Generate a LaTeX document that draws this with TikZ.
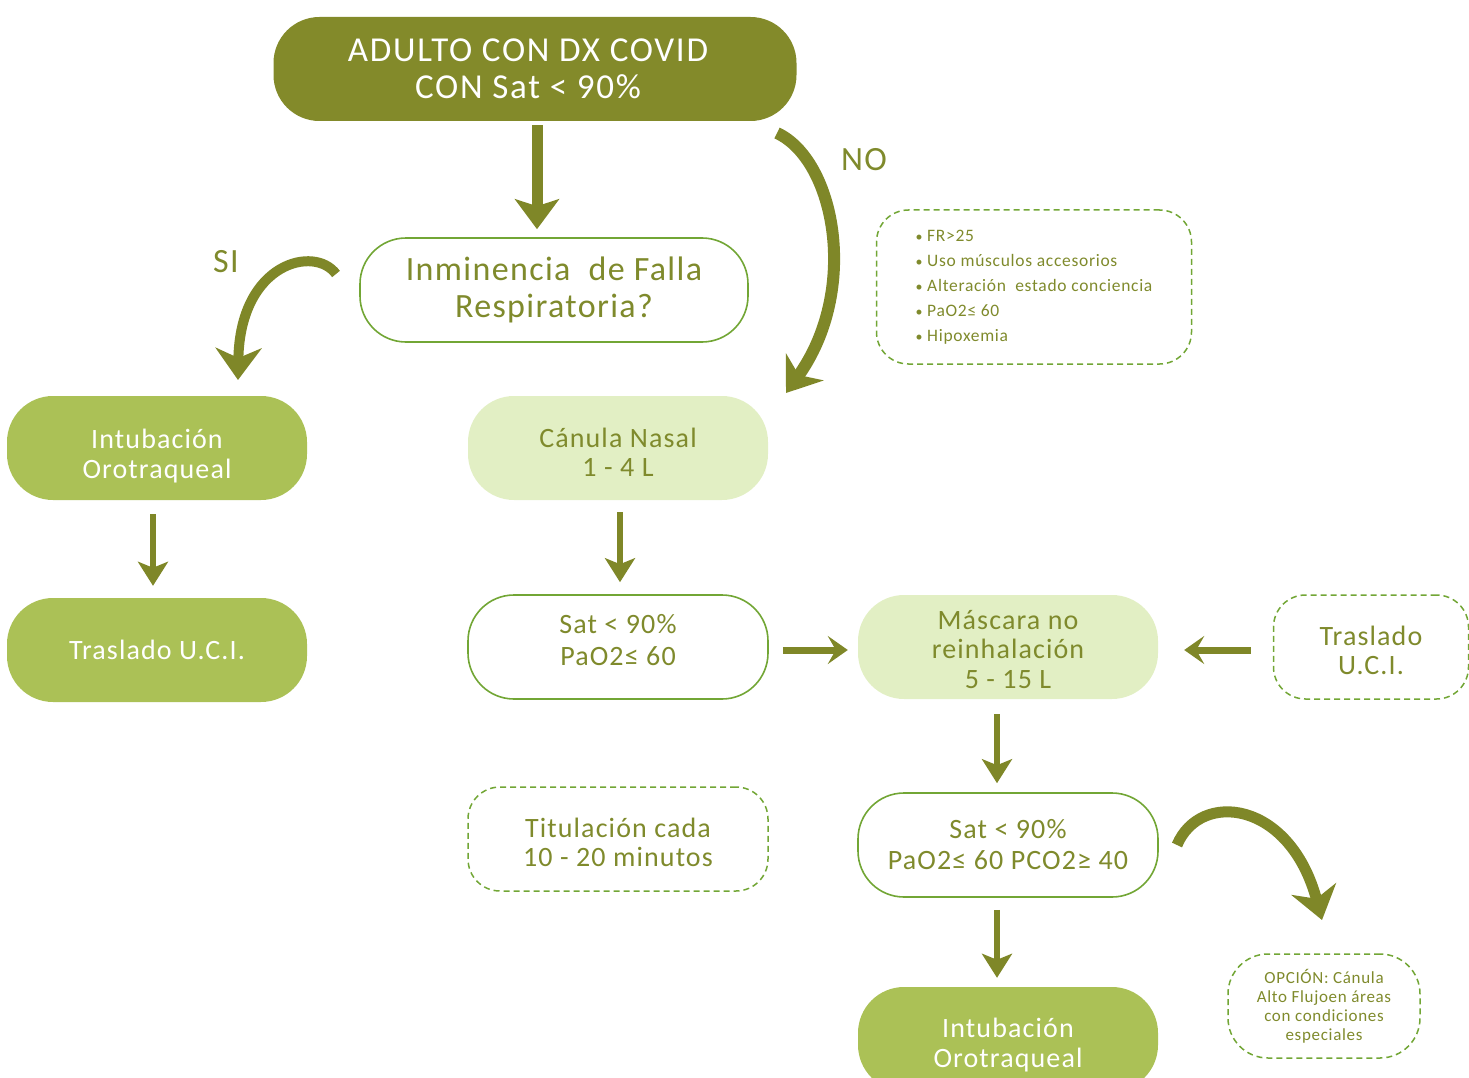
\documentclass[tikz,border=0pt]{standalone}
\usepackage{fontspec}
\setmainfont{Carlito}[LetterSpace=4]
\usetikzlibrary{arrows.meta}
\definecolor{darkolive}{HTML}{838A2A}
\definecolor{midgreen}{HTML}{ABC156}
\definecolor{lightgreen}{HTML}{E2EFC4}
\definecolor{textolive}{HTML}{7F8A2C}
\definecolor{bordergreen}{HTML}{72A635}
\definecolor{arrowolive}{HTML}{7F8728}
\tikzset{
  basebox/.style={rounded corners=46pt, minimum width=300pt, minimum height=104pt, align=center, inner sep=0pt},
  darkbox/.style={basebox, fill=darkolive, text=white},
  midbox/.style={basebox, fill=midgreen, text=white},
  lightbox/.style={basebox, fill=lightgreen, text=textolive},
  outbox/.style={basebox, fill=white, draw=bordergreen, line width=1.6pt, text=textolive},
  dashbox/.style={basebox, rounded corners=32pt, draw=bordergreen, line width=1.5pt, dash pattern=on 6pt off 4pt, text=textolive},
  txtA/.style={font=\fontsize{28}{29.5}\selectfont},
  bigarr/.style={draw=arrowolive, line width=11pt, -{Stealth[length=30pt,width=44pt,inset=7pt]}},
  smallarr/.style={draw=arrowolive, line width=6.5pt, -{Stealth[length=24pt,width=30pt,inset=6pt]}},
  harr/.style={draw=arrowolive, line width=7pt, -{Stealth[length=20pt,width=28pt,inset=8pt]}},
  curvarr/.style={draw=arrowolive, line width=12pt, -{Stealth[length=32pt,width=46pt,inset=10pt]}},
  lbl/.style={text=textolive, font=\fontsize{34}{36}\selectfont}
}
\newcommand{\bul}{{\fontsize{14}{14}\selectfont•}\ }
\begin{document}
\begin{tikzpicture}[x=1pt,y=-1pt]
\useasboundingbox (0,0) rectangle (1469,1078);
\clip (0,0) rectangle (1469,1078);

% nodes
\node[darkbox, minimum width=523pt, font=\fontsize{35}{37}\selectfont\addfontfeatures{LetterSpace=5}] (top) at (535,69) {\hspace*{-14pt}ADULTO CON DX COVID\\\hspace*{-14pt}CON Sat < 90\%};
\node[outbox, minimum width=388pt, font=\fontsize{34}{37}\selectfont] (inm) at (554,290) {Inminencia\ \ de Falla\\Respiratoria?};
\node[midbox, txtA] (intL) at (157,448) {\rule{0pt}{36pt}Intubación\\Orotraqueal};
\node[midbox, txtA] (trasL) at (157,650) {Traslado U.C.I.};
\node[lightbox, txtA] (can) at (618,448) {\rule{0pt}{28pt}Cánula Nasal\\1 - 4 L};
\node[outbox, font=\fontsize{28}{32}\selectfont] (sat) at (618,647) {Sat < 90\%\\PaO2≤ 60\rule[-14pt]{0pt}{1pt}};
\node[lightbox, txtA] (mas) at (1008,647) {\rule{0pt}{24pt}Máscara no\\reinhalación\\5 - 15 L};
\node[dashbox, minimum width=195pt, txtA] (trasR) at (1371,647) {\rule{0pt}{26pt}Traslado\\U.C.I.};
\node[dashbox, txtA] (tit) at (618,839) {\rule{0pt}{26pt}Titulación cada\\10 - 20 minutos};
\node[outbox, font=\fontsize{28}{31}\selectfont] (sat2) at (1008,845) {Sat < 90\%\\PaO2≤ 60 PCO2≥ 40};
\node[midbox, txtA] (intB) at (1008,1039) {\rule{0pt}{31pt}Intubación\\Orotraqueal};
\node[dashbox, minimum width=315pt, minimum height=154pt, align=left, font=\fontsize{17.5}{25}\selectfont] (crit) at (1034,287)
  {\bul FR>25\\\bul Uso músculos accesorios\\\bul Alteración\ \ estado conciencia\\\bul PaO2≤ 60\\\bul Hipoxemia};
\node[dashbox, minimum width=192pt, rounded corners=40pt, font=\fontsize{17}{19}\selectfont] (opc) at (1324,1006)
  {OPCIÓN: Cánula\\Alto Flujoen áreas\\con condiciones\\especiales};

% labels
\node[lbl] (no) at (864,160) {NO};
\node[lbl] (si) at (226,262) {SI};

% straight arrows
\draw[bigarr, shorten <=4pt, shorten >=8pt] ([xshift=2pt]top.south) -- ([xshift=2pt]top.south |- inm.north);
\draw[smallarr, shorten <=14pt, shorten >=12pt] ([xshift=-4pt]intL.south) -- ([xshift=-4pt]trasL.north);
\draw[smallarr, shorten <=12pt, shorten >=12pt] ([xshift=2pt]can.south) -- ([xshift=2pt]sat.north);
\draw[smallarr, shorten <=15pt, shorten >=9pt] ([xshift=-11pt]mas.south) -- ([xshift=-11pt]sat2.north);
\draw[smallarr, shorten <=12pt, shorten >=9pt] ([xshift=-11pt]sat2.south) -- ([xshift=-11pt]intB.north);
\draw[harr, shorten <=14pt, shorten >=10pt] ([yshift=-3pt]sat.east) -- ([yshift=-3pt]mas.west);
\draw[harr, shorten <=22pt, shorten >=26pt] ([yshift=-3pt]trasR.west) -- ([yshift=-3pt]mas.east);

% curved arrows
\coordinate (noS) at (777,133);
\coordinate (noE) at (786,393);
\draw[curvarr] (noS) .. controls (835,160) and (860,290) .. (noE);
\coordinate (siS) at (336,274);
\coordinate (siE) at (238,380);
\draw[curvarr, line width=10pt] (siS) .. controls (315,245) and (240,262) .. (siE);
\coordinate (opS) at (1177,845);
\coordinate (opE) at (1322,920);
\draw[curvarr, line width=11pt] (opS) .. controls (1200,790) and (1290,800) .. (opE);
\end{tikzpicture}
\end{document}
